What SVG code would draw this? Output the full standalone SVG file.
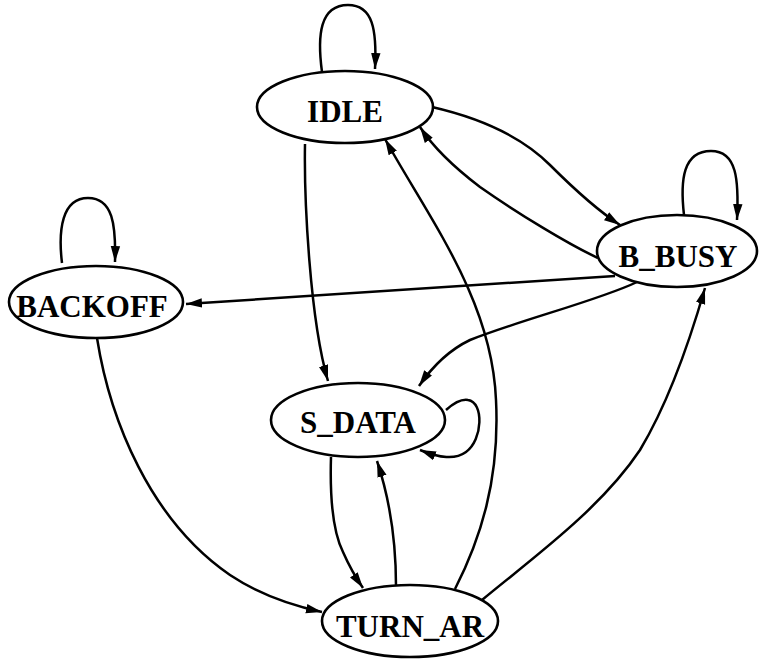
<svg xmlns="http://www.w3.org/2000/svg" width="766" height="659" viewBox="0 0 766 659">
  <style>
    .node ellipse { fill: #ffffff; stroke: #000000; stroke-width: 2.6; }
    .node text { font-family: "Liberation Serif", "Times New Roman", serif; font-weight: bold; font-size: 31px; text-anchor: middle; fill: #000000; }
    .edges path { fill: none; stroke: #000000; stroke-width: 2.5; marker-end: url(#arrow); }
  </style>
  <defs>
    <marker id="arrow" markerUnits="userSpaceOnUse" markerWidth="17" markerHeight="11" viewBox="0 0 17 11" refX="16" refY="5.5" orient="auto">
      <path d="M0,0.8 L16,5.5 L0,10.2 Z" fill="#000000"/>
    </marker>
  </defs>
  <rect width="766" height="659" fill="#ffffff"/>

  <g class="edges" id="connectors">
    <!-- self loops -->
    <path d="M322,72 C317,35 320,5 348,5 C373,5 377,30 375,69"/>
    <path d="M684,215 C680,180 683,151 711,151 C737,151 739,180 737,220"/>
    <path d="M62,263 C58,230 62,198 88,198 C113,198 116,225 115,262"/>
    <path d="M446,410 C455,402 462,399 468,400 C484,402 483,440 466,452 C455,460 440,458 420,450"/>
    <!-- IDLE -> S_DATA -->
    <path d="M305,144 C304,200 310,320 328,381"/>
    <!-- IDLE -> B_BUSY -->
    <path d="M432,107 C480,118 520,135 550,165 C575,190 600,212 620,225"/>
    <!-- B_BUSY -> IDLE -->
    <path d="M598,258 C570,245 520,215 480,187 C455,168 435,150 420,127"/>
    <!-- TURN_AR -> IDLE -->
    <path d="M455,589 C480,540 500,480 496,400 C492,300 430,220 385,139"/>
    <!-- B_BUSY -> BACKOFF -->
    <path d="M615,276 L186,304"/>
    <!-- B_BUSY -> S_DATA -->
    <path d="M637,282 C600,300 520,320 470,340 C445,352 430,370 419,386"/>
    <!-- BACKOFF -> TURN_AR -->
    <path d="M97,338 C110,420 150,520 230,575 C260,595 290,605 322,612"/>
    <!-- S_DATA -> TURN_AR -->
    <path d="M331,457 C330,490 332,530 343,552 C350,568 356,578 363,588"/>
    <!-- TURN_AR -> S_DATA -->
    <path d="M396,586 C396,540 390,500 377,461"/>
    <!-- TURN_AR -> B_BUSY -->
    <path d="M482,600 C530,560 600,510 640,450 C670,400 690,340 705,288"/>
  </g>

  <g class="node" id="IDLE">
    <ellipse cx="345" cy="107" rx="88" ry="36"/>
    <text x="345" y="122">IDLE</text>
  </g>
  <g class="node" id="B_BUSY">
    <ellipse cx="677" cy="251" rx="80" ry="36"/>
    <text x="678" y="267">B_BUSY</text>
  </g>
  <g class="node" id="BACKOFF">
    <ellipse cx="96" cy="302" rx="87" ry="36"/>
    <text x="92" y="317">BACKOFF</text>
  </g>
  <g class="node" id="S_DATA">
    <ellipse cx="358" cy="420" rx="87" ry="37"/>
    <text x="358" y="433">S_DATA</text>
  </g>
  <g class="node" id="TURN_AR">
    <ellipse cx="410" cy="621" rx="88" ry="36"/>
    <text x="410" y="637">TURN_AR</text>
  </g>
</svg>
